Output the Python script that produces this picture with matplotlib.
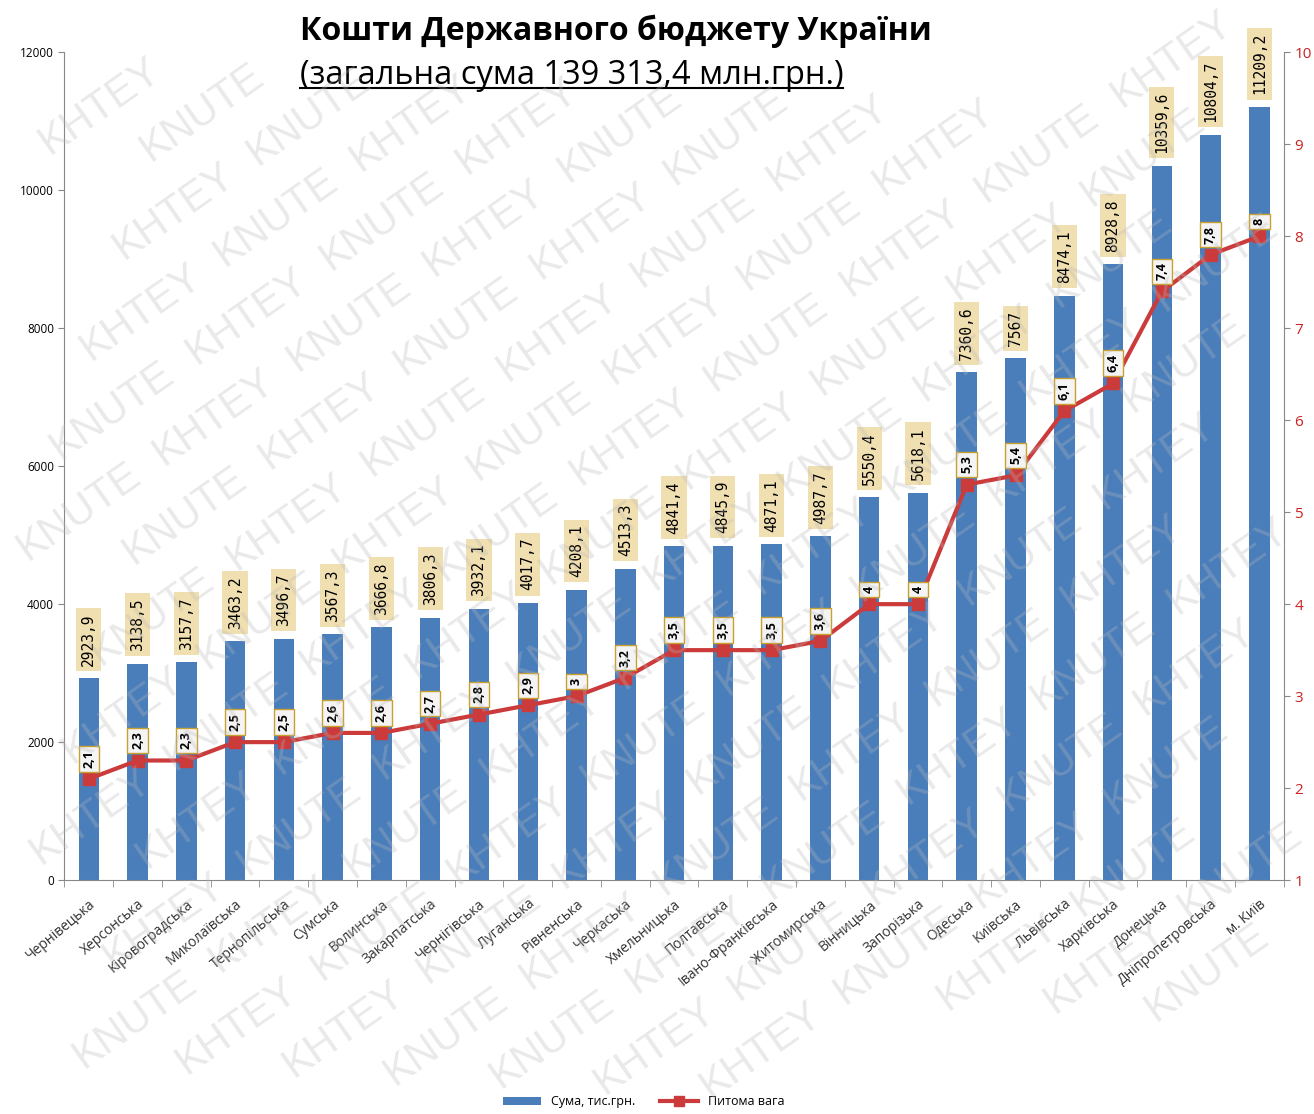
import numpy as np
import matplotlib
matplotlib.use('Agg')
from matplotlib import pyplot as plt
from matplotlib.lines import Line2D

plt.rcParams['font.family'] = ['Open Sans', 'DejaVu Sans']

regions = ['Чернівецька', 'Херсонська', 'Кіровоградська', 'Миколаївська', 'Тернопільська',
           'Сумська', 'Волинська', 'Закарпатська', 'Чернігівська', 'Луганська', 'Рівненська',
           'Черкаська', 'Хмельницька', 'Полтавська', 'Івано-Франківська', 'Житомирська',
           'Вінницька', 'Запорізька', 'Одеська', 'Київська', 'Львівська', 'Харківська',
           'Донецька', 'Дніпропетровська', 'м. Київ']
sums = [2923.9, 3138.5, 3157.7, 3463.2, 3496.7, 3567.3, 3666.8, 3806.3, 3932.1, 4017.7,
        4208.1, 4513.3, 4841.4, 4845.9, 4871.1, 4987.7, 5550.4, 5618.1, 7360.6, 7567.0,
        8474.1, 8928.8, 10359.6, 10804.7, 11209.2]
shares = [2.1, 2.3, 2.3, 2.5, 2.5, 2.6, 2.6, 2.7, 2.8, 2.9, 3, 3.2, 3.5, 3.5, 3.5, 3.6,
          4, 4, 5.3, 5.4, 6.1, 6.4, 7.4, 7.8, 8]


def fmt(v):
    s = ('%.1f' % v).rstrip('0').rstrip('.')
    return s.replace('.', ',')


fig = plt.figure(figsize=(13.14, 11.14), dpi=100)

ax = fig.add_axes([0.049, 0.21, 0.928, 0.743])
x = np.arange(len(regions))
bar_color = '#4a7ebb'
line_color = '#cc3b3b'

bars = ax.bar(x, sums, width=0.42, color=bar_color, zorder=2, label='Сума, тис.грн.')
ax.set_ylim(0, 12000)
ax.set_xlim(-0.5, len(regions) - 0.5)
ax.set_yticks(range(0, 12001, 2000))
ax.tick_params(axis='y', labelsize=8.5, length=4, color='#888888')
ax.set_xticks(x)
ax.set_xticklabels(regions, rotation=40, ha='right', rotation_mode='anchor', fontsize=10,
                   color='#333333')
ax.tick_params(axis='x', length=0, pad=12)
ax.set_xticks(np.arange(-0.5, len(regions), 1), minor=True)
ax.tick_params(axis='x', which='minor', length=5, color='#888888')
for s in ['top', 'right']:
    ax.spines[s].set_visible(False)
for s in ['left', 'bottom']:
    ax.spines[s].set_color('#888888')

for xi, v in zip(x, sums):
    ax.annotate(fmt(v), (xi, v), xytext=(0, 9), textcoords='offset points', rotation=90,
                ha='center', va='bottom', fontsize=10.5, family='DejaVu Sans Mono', zorder=5,
                bbox=dict(boxstyle='square,pad=0.35', fc='#f0dfb0', ec='none'))

ax2 = ax.twinx()
ax2.set_ylim(1, 10)
ax2.set_yticks(range(1, 11))
ax2.tick_params(axis='y', labelsize=11, labelcolor='#cc2222', length=4, color='#888888')
for s in ['top', 'left', 'bottom']:
    ax2.spines[s].set_visible(False)
ax2.spines['right'].set_color('#888888')
ax2.plot(x, shares, color=line_color, lw=3, marker='s', ms=8, mec=line_color, zorder=4,
         label='Питома вага')
for xi, v in zip(x, shares):
    ax2.annotate(fmt(v), (xi, v), xytext=(0, 8), textcoords='offset points', rotation=90,
                 ha='center', va='bottom', fontsize=9, fontweight='bold', zorder=6,
                 bbox=dict(boxstyle='square,pad=0.3', fc='#f4f4f4', ec='#c8a030', lw=1))

handles = [bars, Line2D([], [], color=line_color, lw=3, marker='s', ms=7)]
fig.legend(handles, ['Сума, тис.грн.', 'Питома вага'], loc='lower center', ncol=2,
           bbox_to_anchor=(0.49, -0.005), frameon=False, fontsize=9, handlelength=3,
           columnspacing=2)

fig.text(0.228, 0.972, 'Кошти Державного бюджету України', ha='left', va='center',
         fontsize=23, fontweight='bold', family='Open Sans')
sub = fig.text(0.228, 0.932, '(загальна сума 139 313,4 млн.грн.)', ha='left', va='center',
               fontsize=23.5, family='Open Sans')

# watermark words, laid out along 35 degree rows
ang = np.deg2rad(35)
along = np.array([np.cos(ang), np.sin(ang)])
perp = np.array([-np.sin(ang), np.cos(ang)])
marks = []
for r in range(-30, 30):
    for c in range(-5, 20):
        p = c * 165 * along + r * 64 * perp + (r % 2) * 80 * along
        if -50 < p[0] < 1370 and -50 < p[1] < 1170:
            w = 'KHTEY' if (c + r) % 2 == 0 else 'KNUTE'
            t = fig.text(p[0] / 1314, p[1] / 1114, w, fontsize=30, color='#b8b8b8', alpha=0.3,
                         rotation=35, ha='center', va='center', zorder=10,
                         family='Liberation Sans')
            marks.append(t)

fig.canvas.draw()
for t in marks:
    b = t.get_window_extent()
    if b.x0 < 1 or b.y0 < 1 or b.x1 > 1313 or b.y1 > 1113:
        t.remove()

bb = sub.get_window_extent().transformed(fig.transFigure.inverted())
fig.add_artist(Line2D([bb.x0, bb.x1], [bb.y0 + 0.004, bb.y0 + 0.004], color='black', lw=1.5,
                      transform=fig.transFigure))

fig.savefig('out.png', dpi=100)
